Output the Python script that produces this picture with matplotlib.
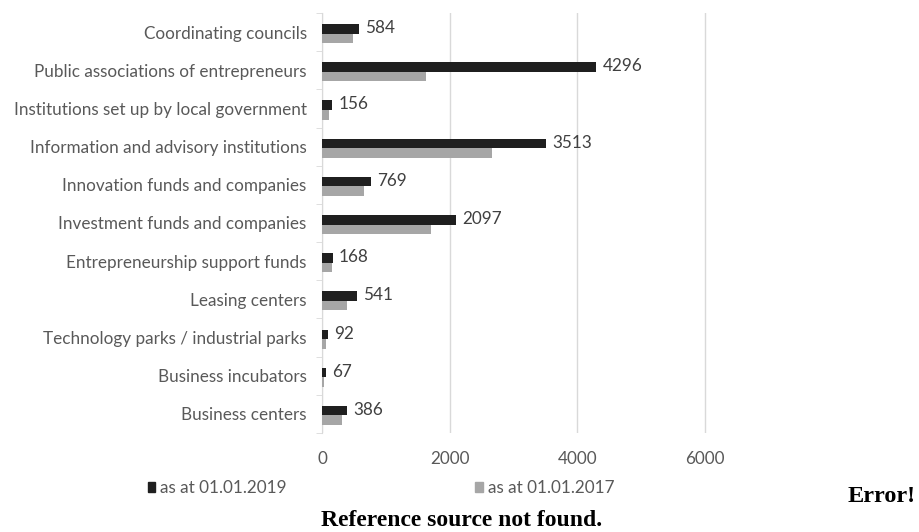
import matplotlib
matplotlib.use("Agg")
import matplotlib.pyplot as plt
from matplotlib.patches import Patch

categories = [
    "Coordinating councils",
    "Public associations of entrepreneurs",
    "Institutions set up by local government",
    "Information and advisory institutions",
    "Innovation funds and companies",
    "Investment funds and companies",
    "Entrepreneurship support funds",
    "Leasing centers",
    "Technology parks / industrial parks",
    "Business incubators",
    "Business centers",
]
values_2019 = [584, 4296, 156, 3513, 769, 2097, 168, 541, 92, 67, 386]
values_2017 = [491, 1623, 104, 2667, 658, 1702, 160, 392, 63, 31, 308]
xticks = [0, 2000, 4000, 6000]
label_2019 = "as at 01.01.2019"
label_2017 = "as at 01.01.2017"

plt.rcParams['font.family'] = ['Lato', 'DejaVu Sans']
txt = "#595959"
fs = 12.3

fig = plt.figure(figsize=(9.19, 5.32), dpi=100)
W, H = 919, 532
ax = fig.add_axes([322 / W, 1 - 433 / H, (769 - 322) / W, (433 - 13) / H])

n = len(categories)
ys = list(range(n))
h = 0.25
ax.barh([y - h / 2 + 0.04 for y in ys], values_2019, height=h, color="#1f1f1f", zorder=3)
ax.barh([y + h / 2 + 0.04 for y in ys], values_2017, height=h, color="#a6a6a6", zorder=3)

for y, v in zip(ys, values_2019):
    ax.annotate(str(v), xy=(v, y - h / 2 + 0.02), xytext=(4.5, 0), textcoords="offset points",
                va="center", ha="left", fontsize=fs, color="#404040")

ax.set_ylim(n - 0.5, -0.5)
ax.set_xlim(0, 7000)
ax.set_yticks(ys)
ax.set_yticklabels(categories, fontsize=fs, color=txt)
ax.set_xticks(xticks)
ax.set_xticklabels([str(t) for t in xticks], fontsize=fs, color=txt)
ax.tick_params(axis="x", length=0, pad=13)
ax.tick_params(axis="y", length=0, pad=11)
ax.set_yticks([y + 0.5 for y in range(-1, n)], minor=True)
ax.tick_params(axis="y", which="minor", length=4, color="#d9d9d9", direction="out")
ax.grid(axis="x", color="#d9d9d9", linewidth=1, zorder=0)
for s in ["top", "right", "bottom"]:
    ax.spines[s].set_visible(False)
ax.spines["left"].set_color("#d9d9d9")

handles = [Patch(color="#1f1f1f"), Patch(color="#a6a6a6")]
fig.legend(handles, [label_2019, label_2017], loc="center", bbox_to_anchor=(381 / W, 1 - 488 / H),
           ncol=2, frameon=False, fontsize=fs, handlelength=0.45, handleheight=0.45,
           handletextpad=0.3, columnspacing=11.0, labelcolor=txt)

fig.text(916 / W, 1 - 496 / H, "Error!", ha="right", va="center", fontsize=17.5,
         fontweight="bold", family="Liberation Serif")
fig.text(462 / W, 1 - 521 / H, "Reference source not found.", ha="center", va="center",
         fontsize=17, fontweight="bold", family="Liberation Serif")

fig.savefig("out.png", dpi=100)
